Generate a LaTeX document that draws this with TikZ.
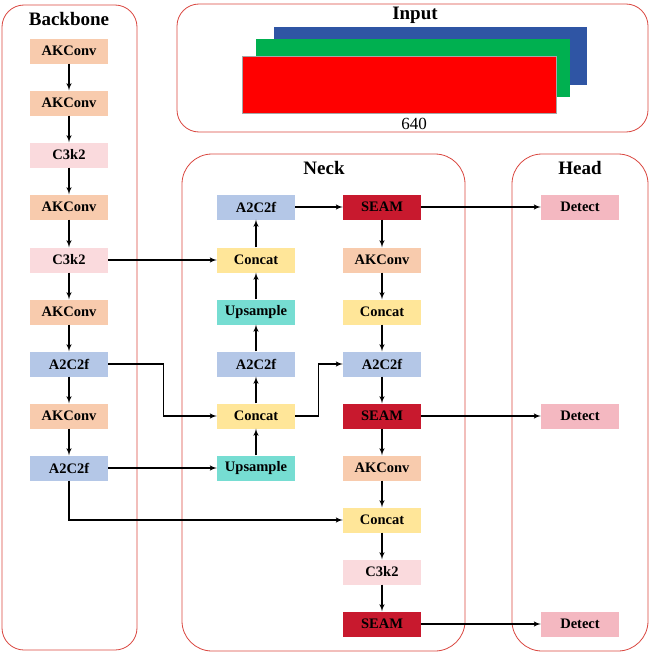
\documentclass[tikz,border=0pt]{standalone}
\usepackage{fontspec}
\setmainfont{Liberation Serif}
\usepackage{tikz}
\usetikzlibrary{arrows}

\definecolor{akconv}{HTML}{F8CBAD}
\definecolor{cthree}{HTML}{FADADD}
\definecolor{atwo}{HTML}{B4C7E7}
\definecolor{concat}{HTML}{FFE699}
\definecolor{upsample}{HTML}{76DDD2}
\definecolor{seam}{HTML}{C8192E}
\definecolor{detect}{HTML}{F4B8C1}
\definecolor{frame}{HTML}{D9463F}
\definecolor{inblue}{HTML}{2F55A4}
\definecolor{ingreen}{HTML}{00B050}

\begin{document}
\begin{tikzpicture}[x=1pt,y=-1pt]

\tikzset{block/.style = {shape=rectangle,minimum width=78pt,minimum height=25pt,inner sep=0pt,font=\fontsize{14.5}{15}\selectfont\bfseries}}
\tikzset{group/.style = {draw=frame,line width=0.8pt}}
\tikzset{title/.style = {font=\fontsize{19}{21}\selectfont\bfseries}}
\tikzset{edge/.style = {->,> = latex',line width=1.4pt}}

\useasboundingbox (0,0) rectangle (650,653);

% frames
\draw[group,rounded corners=22pt] (2,5) rectangle (137,650);
\draw[group,rounded corners=22pt] (177,4) rectangle (648,132);
\draw[group,rounded corners=30pt] (182,154) rectangle (465,651);
\draw[group,rounded corners=30pt] (512,154) rectangle (648,651);

\node[title] (tb) at (69,19) {Backbone};
\node[title] (ti) at (415,15) {Input};
\node[title] (tn) at (324,168) {Neck};
\node[title] (th) at (580,168) {Head};

% input image
\fill[inblue] (274,27) rectangle (587,85);
\fill[ingreen] (256,39) rectangle (570,97);
\draw[fill=red,draw=gray!70,line width=0.4pt] (242,56) rectangle (556,113);
\node[font=\fontsize{17}{18}\selectfont] (size) at (414,124) {640};

% backbone
\node[block,fill=akconv] (b0) at (69,51) {AKConv};
\node[block,fill=akconv] (b1) at (69,103) {AKConv};
\node[block,fill=cthree] (b2) at (69,155) {C3k2};
\node[block,fill=akconv] (b3) at (69,207) {AKConv};
\node[block,fill=cthree] (b4) at (69,260) {C3k2};
\node[block,fill=akconv] (b5) at (69,312) {AKConv};
\node[block,fill=atwo] (b6) at (69,364) {A2C2f};
\node[block,fill=akconv] (b7) at (69,416) {AKConv};
\node[block,fill=atwo] (b8) at (69,468) {A2C2f};

% neck, left column
\node[block,fill=atwo] (l3) at (256,207) {A2C2f};
\node[block,fill=concat] (l4) at (256,260) {Concat};
\node[block,fill=upsample] (l5) at (256,312) {Upsample};
\node[block,fill=atwo] (l6) at (256,364) {A2C2f};
\node[block,fill=concat] (l7) at (256,416) {Concat};
\node[block,fill=upsample] (l8) at (256,468) {Upsample};

% neck, right column
\node[block,fill=seam] (r3) at (382,207) {SEAM};
\node[block,fill=akconv] (r4) at (382,260) {AKConv};
\node[block,fill=concat] (r5) at (382,312) {Concat};
\node[block,fill=atwo] (r6) at (382,364) {A2C2f};
\node[block,fill=seam] (r7) at (382,416) {SEAM};
\node[block,fill=akconv] (r8) at (382,468) {AKConv};
\node[block,fill=concat] (r9) at (382,520) {Concat};
\node[block,fill=cthree] (r10) at (382,572) {C3k2};
\node[block,fill=seam] (r11) at (382,624) {SEAM};

% head
\node[block,fill=detect] (h3) at (580,207) {Detect};
\node[block,fill=detect] (h7) at (580,416) {Detect};
\node[block,fill=detect] (h11) at (580,624) {Detect};

% backbone chain
\foreach \i/\j in {0/1,1/2,2/3,3/4,4/5,5/6,6/7,7/8}
  \draw[edge] (b\i) to (b\j);

% neck, going up
\foreach \i/\j in {8/7,7/6,6/5,5/4,4/3}
  \draw[edge] (l\i) to (l\j);

% neck, going down
\foreach \i/\j in {3/4,4/5,5/6,6/7,7/8,8/9,9/10,10/11}
  \draw[edge] (r\i) to (r\j);

% cross links
\draw[edge] (b4) to (l4);
\draw[edge] (b6.east) -- ++(55,0) |- (l7.west);
\draw[edge] (b8) to (l8);
\draw[edge] (b8.south) |- (r9.west);
\draw[edge] (l3) to (r3);
\draw[edge] (l7.east) -- ++(23,0) |- (r6.west);

% to head
\draw[edge] (r3) to (h3);
\draw[edge] (r7) to (h7);
\draw[edge] (r11) to (h11);
\end{tikzpicture}
\end{document}
